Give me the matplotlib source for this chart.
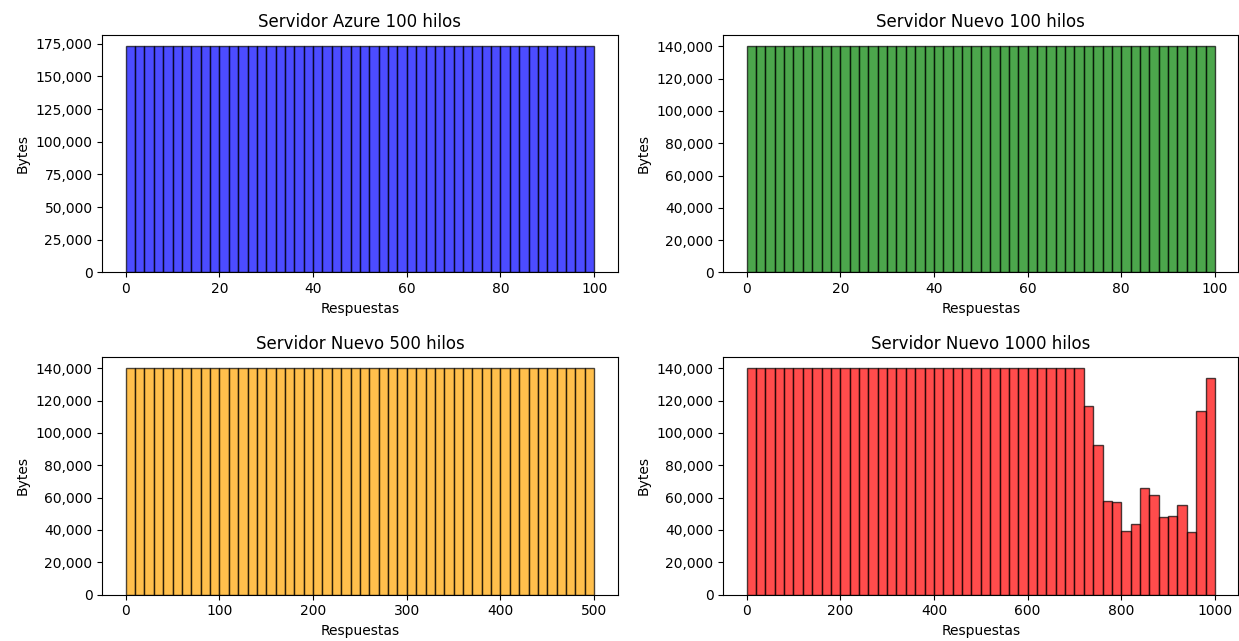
import matplotlib.pyplot as plt
import matplotlib.ticker as mticker
import numpy as np

# Bytes summed per bin (50 bins per chart)
azure_100 = [173000] * 50
nuevo_100 = [140000] * 50
nuevo_500 = [140000] * 50
nuevo_1000 = [140000] * 36 + [116500, 92300, 58000, 57400, 39200, 43800, 65900,
                             61700, 47700, 48900, 55500, 38600, 113400, 134200]

charts = [
    ("Servidor Azure 100 hilos", 100, azure_100, "blue"),
    ("Servidor Nuevo 100 hilos", 100, nuevo_100, "green"),
    ("Servidor Nuevo 500 hilos", 500, nuevo_500, "orange"),
    ("Servidor Nuevo 1000 hilos", 1000, nuevo_1000, "red"),
]

fig, axes = plt.subplots(2, 2, figsize=(12.39, 6.41), dpi=100)

for ax, (title, n, heights, color) in zip(axes.flat, charts):
    edges = np.linspace(0, n, len(heights) + 1)
    ax.hist(edges[:-1], bins=edges, weights=heights, color=color,
            edgecolor="black", alpha=0.7)
    ax.set_title(title)
    ax.set_xlabel("Respuestas")
    ax.set_ylabel("Bytes")
    ax.yaxis.set_major_formatter(mticker.StrMethodFormatter("{x:,.0f}"))

# layout matched to the reference (right column runs almost to the edge)
fig.subplots_adjust(left=0.0826, right=0.9995, top=0.9454, bottom=0.0725,
                    wspace=0.205, hspace=0.356)
plt.savefig("out.png")
